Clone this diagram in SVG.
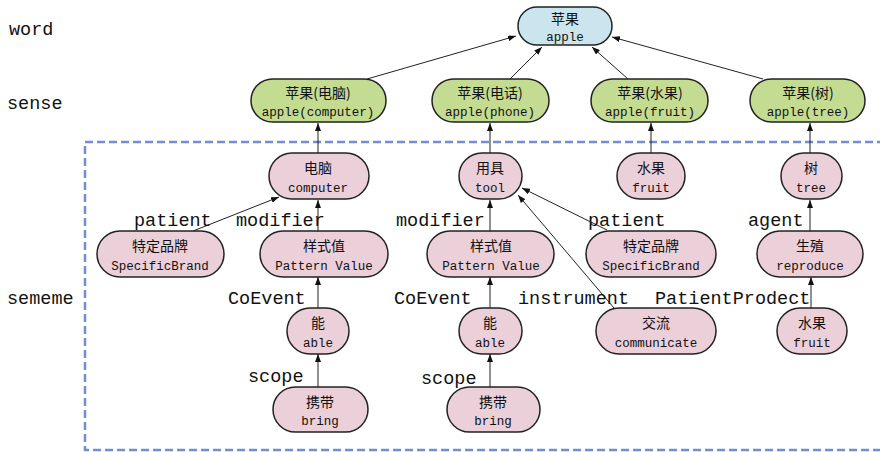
<svg xmlns="http://www.w3.org/2000/svg" width="880" height="452" viewBox="0 0 880 452">
<defs>
<marker id="ah" markerUnits="userSpaceOnUse" markerWidth="8" markerHeight="6" refX="8" refY="3" orient="auto">
<path d="M0,0 L8,3 L0,6 z" fill="#111"/>
</marker>
<style>
.n rect{stroke:#222;stroke-width:1.5}
.w rect{fill:#cbe5ee}
.s rect{fill:#c4db92}
.m rect{fill:#ebcfd9}
.n text{font-family:"Liberation Mono","Noto Sans CJK SC",monospace;font-size:12.5px;fill:#111;text-anchor:middle}
.n text.zh{font-family:"Noto Sans CJK SC",sans-serif;font-size:14px}
.lab{font-family:"Liberation Mono","DejaVu Sans Mono",monospace;font-size:18.5px;fill:#111}
.e line{stroke:#222;stroke-width:1;marker-end:url(#ah)}
</style>
</defs>
<rect width="880" height="452" fill="#fff"/>
<rect x="85" y="142" width="820" height="308" fill="none" stroke="#6f8fd2" stroke-width="2.5" stroke-dasharray="8,4"/>
<g id="levels">
<text class="lab" x="9" y="35">word</text>
<text class="lab" x="7" y="109">sense</text>
<text class="lab" x="7" y="304">sememe</text>
</g>
<g id="edges" class="e">
<line x1="367" y1="79" x2="516" y2="36"/>
<line x1="510" y1="79" x2="542" y2="47"/>
<line x1="628" y1="79" x2="592" y2="47"/>
<line x1="763" y1="79" x2="612" y2="37"/>
<line x1="318" y1="153" x2="318" y2="123"/>
<line x1="490" y1="153" x2="490" y2="123"/>
<line x1="651" y1="153" x2="651" y2="123"/>
<line x1="810" y1="153" x2="810" y2="123"/>
<line x1="193" y1="231" x2="279" y2="197"/>
<line x1="318" y1="231" x2="318" y2="200"/>
<line x1="318" y1="308" x2="318" y2="277"/>
<line x1="318" y1="387" x2="318" y2="354"/>
<line x1="490" y1="231" x2="490" y2="200"/>
<line x1="607" y1="230" x2="522" y2="188"/>
<line x1="614" y1="308" x2="518" y2="195"/>
<line x1="490" y1="308" x2="490" y2="277"/>
<line x1="490" y1="387" x2="490" y2="354"/>
<line x1="810" y1="231" x2="810" y2="200"/>
<line x1="811" y1="308" x2="811" y2="277"/>
</g>
<g id="edge-labels">
<text class="lab" x="134" y="226">patient</text>
<text class="lab" x="236" y="226">modifier</text>
<text class="lab" x="396" y="226">modifier</text>
<text class="lab" x="588" y="226">patient</text>
<text class="lab" x="748" y="226">agent</text>
<text class="lab" x="228" y="304">CoEvent</text>
<text class="lab" x="394" y="304">CoEvent</text>
<text class="lab" x="518" y="304">instrument</text>
<text class="lab" x="655" y="304">PatientProdect</text>
<text class="lab" x="248" y="382">scope</text>
<text class="lab" x="421" y="384">scope</text>
</g>
<g id="apple" class="n w"><rect x="518" y="7" width="94" height="38" rx="19"/><text class="zh" x="565" y="24">苹果</text><text x="565" y="41">apple</text></g>
<g id="apple-computer" class="n s"><rect x="251" y="79" width="135" height="43" rx="21.5"/><text class="zh" x="318" y="98">苹果(电脑)</text><text x="318" y="116">apple(computer)</text></g>
<g id="apple-phone" class="n s"><rect x="432" y="79" width="117" height="43" rx="21.5"/><text class="zh" x="490" y="98">苹果(电话)</text><text x="490" y="116">apple(phone)</text></g>
<g id="apple-fruit" class="n s"><rect x="591" y="79" width="117" height="43" rx="21.5"/><text class="zh" x="650" y="98">苹果(水果)</text><text x="650" y="116">apple(fruit)</text></g>
<g id="apple-tree" class="n s"><rect x="750" y="79" width="115" height="43" rx="21.5"/><text class="zh" x="808" y="98">苹果(树)</text><text x="808" y="116">apple(tree)</text></g>
<g id="computer" class="n m"><rect x="269" y="153" width="100" height="46" rx="23"/><text class="zh" x="318" y="173">电脑</text><text x="318" y="192">computer</text></g>
<g id="tool" class="n m"><rect x="459" y="153" width="63" height="46" rx="23"/><text class="zh" x="490" y="173">用具</text><text x="490" y="192">tool</text></g>
<g id="fruit" class="n m"><rect x="617" y="153" width="68" height="46" rx="23"/><text class="zh" x="651" y="173">水果</text><text x="651" y="192">fruit</text></g>
<g id="tree" class="n m"><rect x="781" y="153" width="61" height="46" rx="23"/><text class="zh" x="811" y="173">树</text><text x="811" y="192">tree</text></g>
<g id="specificbrand-1" class="n m"><rect x="97" y="231" width="127" height="46" rx="23"/><text class="zh" x="160" y="251">特定品牌</text><text x="160" y="270">SpecificBrand</text></g>
<g id="patternvalue-1" class="n m"><rect x="260" y="231" width="128" height="46" rx="23"/><text class="zh" x="324" y="251">样式值</text><text x="324" y="270">Pattern Value</text></g>
<g id="patternvalue-2" class="n m"><rect x="427" y="231" width="127" height="46" rx="23"/><text class="zh" x="491" y="251">样式值</text><text x="491" y="270">Pattern Value</text></g>
<g id="specificbrand-2" class="n m"><rect x="586" y="231" width="130" height="46" rx="23"/><text class="zh" x="651" y="251">特定品牌</text><text x="651" y="270">SpecificBrand</text></g>
<g id="reproduce" class="n m"><rect x="757" y="231" width="106" height="46" rx="23"/><text class="zh" x="810" y="251">生殖</text><text x="810" y="270">reproduce</text></g>
<g id="able-1" class="n m"><rect x="287" y="308" width="62" height="46" rx="23"/><text class="zh" x="318" y="328">能</text><text x="318" y="347">able</text></g>
<g id="able-2" class="n m"><rect x="459" y="308" width="63" height="46" rx="23"/><text class="zh" x="490" y="328">能</text><text x="490" y="347">able</text></g>
<g id="communicate" class="n m"><rect x="596" y="308" width="120" height="46" rx="23"/><text class="zh" x="656" y="328">交流</text><text x="656" y="347">communicate</text></g>
<g id="fruit-2" class="n m"><rect x="777" y="308" width="70" height="46" rx="23"/><text class="zh" x="812" y="328">水果</text><text x="812" y="347">fruit</text></g>
<g id="bring-1" class="n m"><rect x="273" y="387" width="95" height="45" rx="22.5"/><text class="zh" x="320" y="407">携带</text><text x="320" y="425">bring</text></g>
<g id="bring-2" class="n m"><rect x="447" y="387" width="93" height="45" rx="22.5"/><text class="zh" x="493" y="407">携带</text><text x="493" y="425">bring</text></g>
</svg>
